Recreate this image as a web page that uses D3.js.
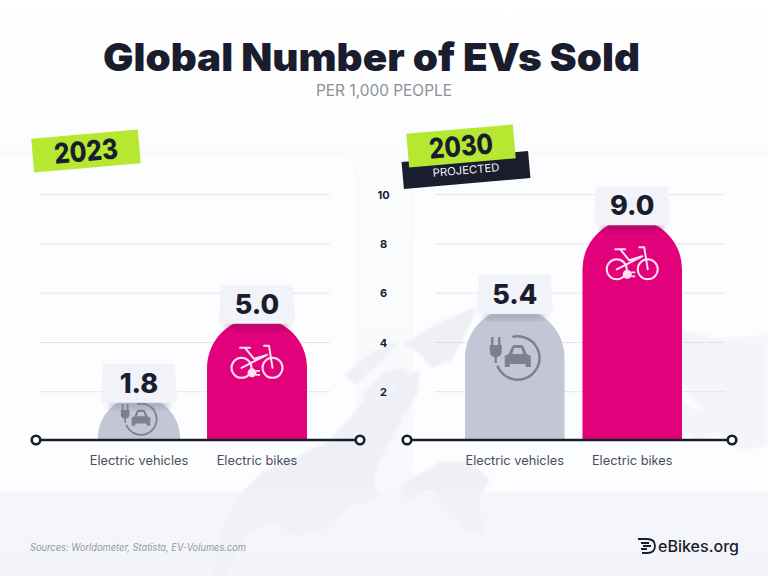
<!DOCTYPE html>
<html><head><meta charset="utf-8">
<script src="https://cdn.jsdelivr.net/npm/d3@7"></script>
<style>html,body{margin:0;padding:0;background:#fff;overflow:hidden}svg{display:block}text{font-family:Inter,Lato,sans-serif}</style>
</head><body><svg id="c" width="768" height="576"></svg>
<script>
const titleText = "Global Number of EVs Sold";
const subtitleText = "PER 1,000 PEOPLE";
const categories = ["Electric vehicles", "Electric bikes"];
const values2023 = [1.8, 5.0];
const values2030 = [5.4, 9.0];
const tickValues = [2, 4, 6, 8, 10];
const sourceText = "Sources: Worldometer, Statista, EV-Volumes.com";

const svg = d3.select("#c");
const defs = svg.append("defs");
const bg = defs.append("linearGradient").attr("id","bg").attr("x1",0).attr("x2",0).attr("y1",0).attr("y2",1);
bg.append("stop").attr("offset",0).attr("stop-color","#ffffff");
bg.append("stop").attr("offset",0.3).attr("stop-color","#fbfcfd");
bg.append("stop").attr("offset",1).attr("stop-color","#f5f7fb");
defs.append("filter").attr("id","soft").append("feGaussianBlur").attr("stdDeviation",1.6);
const sh = defs.append("filter").attr("id","shade").attr("x","-20%").attr("y","-50%").attr("width","140%").attr("height","200%");
sh.append("feGaussianBlur").attr("stdDeviation",3);

svg.append("rect").attr("width",768).attr("height",576).attr("fill","url(#bg)");

// faint panels behind the two charts
svg.append("path").attr("d","M-5,153H337a20,20 0 0 1 20,20V493H-5Z").attr("fill","#fcfdfe").attr("stroke","#f7f8fb").attr("stroke-width",1.5);
svg.append("path").attr("d","M773,153H432a20,20 0 0 0 -20,20V493H773Z").attr("fill","#fcfdfe").attr("stroke","#f7f8fb").attr("stroke-width",1.5);

// decorative world map
const land = [
 "M212,576L222,530L240,495L262,472L300,455L330,440L352,415L372,392L398,392L402,420L385,450L372,480L352,505L325,528L296,536L270,522L248,532L232,560L226,576Z",
 "M398,378L420,370L418,392L405,415L385,420L392,395Z",
 "M362,395L385,372L410,368L395,385L370,405Z",
 "M345,375L372,352L400,340L385,358L355,385Z",
 "M402,345L440,322L478,306L470,325L452,360L432,368L418,352Z",
 "M348,492L372,478L378,495L362,505L350,503Z",
 "M400,485L440,462L470,462L490,480L478,500L484,535L468,532L450,510L430,490L405,500Z"
];
svg.append("g").attr("filter","url(#soft)").selectAll("path").data(land).join("path").attr("d",d=>d).attr("fill","#eef0f6");
const landFaint = [
 "M680,340L768,335V445L740,452L712,425L690,395L672,370Z",
 "M580,335L640,325L710,335L690,350L600,360Z",
 "M680,400L730,430L700,440L660,420Z"
];
svg.append("g").attr("filter","url(#soft)").selectAll("path").data(landFaint).join("path").attr("d",d=>d).attr("fill","#f4f5f9");

// footer band
svg.append("rect").attr("x",0).attr("y",493).attr("width",768).attr("height",83).attr("fill","#f1f4f9").attr("opacity",0.5);

// title
svg.append("text").attr("x",371.5).attr("y",71).attr("text-anchor","middle").attr("font-size",39).attr("font-weight",900)
  .attr("fill","#1a1d2e").attr("textLength",537).attr("lengthAdjust","spacingAndGlyphs").text(titleText);
svg.append("text").attr("x",384).attr("y",96).attr("text-anchor","middle").attr("font-size",15.5).attr("font-weight",400)
  .attr("fill","#8c9099").attr("textLength",136).attr("lengthAdjust","spacingAndGlyphs").text(subtitleText);

const y = d3.scaleLinear().domain([0,10]).range([441,194.7]);

function bikeIcon(g, col){
  const s = g.append("g").attr("fill","none").attr("stroke",col).attr("stroke-width",2).attr("stroke-linecap","round").attr("stroke-linejoin","round");
  s.append("circle").attr("cx",-15.5).attr("cy",6).attr("r",10);
  s.append("circle").attr("cx",15.5).attr("cy",6).attr("r",10);
  s.append("path").attr("d","M-17,-14H-7M-12,-14L-3,-3M-15.5,6L10,-7M-3,-3L10,-7M7,-16H12L15.5,6");
  g.append("circle").attr("cx",-5).attr("cy",11).attr("r",4.5).attr("fill",col);
  g.append("path").attr("d","M-1,9H3M-1,13H3").attr("stroke",col).attr("stroke-width",1.6);
}
function evIcon(g, col){
  g.append("path").attr("d",d3.arc()({innerRadius:20.5,outerRadius:23,startAngle:-0.25,endAngle:4.35})).attr("fill",col);
  g.append("path").attr("d","M-28,-13H-16V-7Q-16,-1 -22,-1Q-28,-1 -28,-7Z").attr("fill",col);
  g.append("path").attr("d","M-25.5,-21V-13M-18.5,-21V-13M-22,-3V5").attr("stroke",col).attr("stroke-width",2.4).attr("fill","none");
  g.append("path").attr("d","M-13,9V-2L-9,-4L-6,-11Q-5,-13 -3,-13H3Q5,-13 6,-11L9,-4L13,-2V9H8V6H-8V9Z M-5.5,-4H5.5L3.5,-10H-3.5Z").attr("fill",col).attr("fill-rule","evenodd");
}

function panel(values, range, axisX, gridX){
  const x = d3.scaleBand().domain(categories).range(range).paddingInner(0.153).paddingOuter(0);
  const g = svg.append("g");
  const base = 440;
  g.append("g").selectAll("line").data(tickValues).join("line")
    .attr("x1",gridX[0]).attr("x2",gridX[1]).attr("y1",d=>y(d)).attr("y2",d=>y(d))
    .attr("stroke","#c9ccd4").attr("stroke-width",1).attr("stroke-dasharray","1 1");
  const rows = categories.map((c,i)=>({c,v:values[i],ev:i===0}));
  rows.forEach(d=>{
    const cx = x(d.c)+x.bandwidth()/2, top = y(d.v), h = base-top;
    const r = Math.min(x.bandwidth()/2, h*0.95);
    const arch = `M${cx-r},${base}V${top+r}A${r},${r} 0 0 1 ${cx+r},${top+r}V${base}Z`;
    g.append("path").attr("d",arch).attr("fill",d.ev?"#c3c7d5":"#e2007b");
    const ic = g.append("g");
    if(d.ev){
      const s = h<60 ? 0.72 : 1;
      ic.attr("transform",`translate(${cx+(s<1?2:3)},${top+Math.min(50,0.52*h)}) scale(${s})`);
      evIcon(ic,"#7d818f");
    } else {
      ic.attr("transform",`translate(${cx},${top+44})`);
      bikeIcon(ic,"#fbe3ef");
    }
  });
  rows.forEach(d=>{
    const cx = x(d.c)+x.bandwidth()/2, b = y(d.v)+6;
    g.append("rect").attr("x",cx-30).attr("y",b-1).attr("width",60).attr("height",6)
      .attr("fill",d.ev?"#7d8192":"#7a0b4e").attr("opacity",.5).attr("filter","url(#shade)");
    g.append("path").attr("d",`M${cx-36},${b-39}H${cx+36}L${cx+38},${b-3}Q${cx+38},${b} ${cx+34},${b}H${cx-34}Q${cx-38},${b} ${cx-38},${b-3}Z`).attr("fill","#f1f3f8");
    g.append("text").attr("x",cx).attr("y",b-10).attr("text-anchor","middle").attr("font-size",27).attr("font-weight",800).attr("fill","#1a1d2e").text(d3.format(".1f")(d.v));
    g.append("text").attr("x",cx).attr("y",base+25).attr("text-anchor","middle").attr("font-size",12.8).attr("fill","#4b4e5a").text(d.c);
  });
  g.append("line").attr("x1",axisX[0]).attr("x2",axisX[1]).attr("y1",base).attr("y2",base).attr("stroke","#1a1d2e").attr("stroke-width",2.6);
  g.selectAll("circle.cap").data(axisX).join("circle").attr("class","cap").attr("cx",d=>d).attr("cy",base).attr("r",4.3).attr("fill","#fff").attr("stroke","#1a1d2e").attr("stroke-width",2.6);
}
panel(values2023,[89,307],[36,360],[41,331]);
panel(values2030,[465,682],[407,732],[435,725]);

const axis = svg.append("g").attr("transform","translate(383.5,0)").call(d3.axisLeft(y).tickValues(tickValues).tickSize(0).tickFormat(d3.format("d")));
axis.select(".domain").remove();
axis.selectAll("text").attr("x",0).attr("text-anchor","middle").attr("font-size",11).attr("font-weight",700).attr("fill","#1a1d2e").style("font-family","Inter,sans-serif");

function tag(cx,cy,w,h,fill,txt,size,col,weight,tw){
  const t = svg.append("g").attr("transform",`translate(${cx},${cy}) rotate(-5)`);
  t.append("rect").attr("x",-w/2).attr("y",-h/2).attr("width",w).attr("height",h).attr("fill",fill);
  t.append("text").attr("text-anchor","middle").attr("dy","0.36em").attr("font-size",size).attr("font-weight",weight).attr("fill",col)
    .attr("textLength",tw).attr("lengthAdjust","spacingAndGlyphs").text(txt);
}
tag(86,151,107,34,"#b6e832","2023",28,"#1a1d2e",800,64);
tag(466,170,127,27,"#1a1d2e","PROJECTED",11,"#f2f3f6",400,67);
tag(461,146,107,34,"#b6e832","2030",28,"#1a1d2e",800,64);

svg.append("text").attr("x",30).attr("y",551).attr("font-size",10.2).attr("font-style","italic").attr("fill","#9499a6").attr("textLength",216).attr("lengthAdjust","spacingAndGlyphs").text(sourceText);
const logo = svg.append("g").attr("transform","translate(638,538)");
logo.append("path").attr("d","M0,1H9Q17,1 17,8Q17,15 9,15H4M3,5H11M5,8H13M3,11H9").attr("fill","none").attr("stroke","#1a1d2e").attr("stroke-width",1.8);
svg.append("text").attr("x",658).attr("y",552).attr("font-size",15.5).attr("font-weight",500).attr("fill","#1a1d2e").attr("textLength",81).attr("lengthAdjust","spacingAndGlyphs").text("eBikes.org");
</script></body></html>
